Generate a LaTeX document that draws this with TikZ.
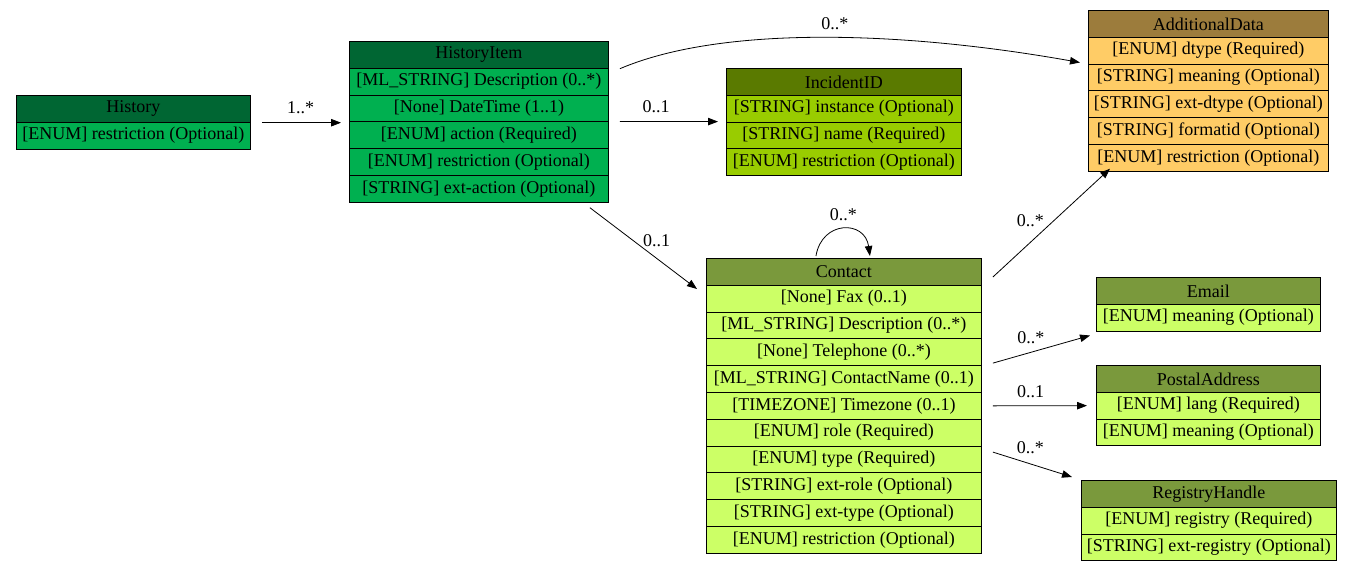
\documentclass[tikz,border=0pt]{standalone}
\usepackage{fontspec}
\setmainfont{Liberation Serif}
\usetikzlibrary{arrows.meta}
\definecolor{histhead}{RGB}{0,102,51}
\definecolor{histrow}{RGB}{0,176,80}
\definecolor{incihead}{RGB}{90,122,0}
\definecolor{incirow}{RGB}{153,204,0}
\definecolor{conthead}{RGB}{122,153,60}
\definecolor{controw}{RGB}{204,255,102}
\definecolor{datahead}{RGB}{156,124,60}
\definecolor{datarow}{RGB}{255,204,102}
\begin{document}
\begin{tikzpicture}[x=1pt, y=-1pt,
    hdr/.style={draw, line width=0.9pt, anchor=north west, inner sep=0pt,
      minimum height=26.8pt, font=\fontsize{18}{20}\selectfont},
    rowbox/.style={hdr},
    edge/.style={-{Triangle[length=10pt,width=7.5pt]}, line width=0.8pt},
    lbl/.style={font=\fontsize{18}{20}\selectfont, inner sep=0pt}]
    \useasboundingbox (0,0) rectangle (1352,571);

    % History
    \node[hdr, fill=histhead, minimum width=234pt] (history) at (16,95) {History};
    \foreach \txt [count=\i] in {{[ENUM] restriction (Optional)}}
      \node[rowbox, fill=histrow, minimum width=234pt] (history-\i) at (16,95+26.8*\i) {\txt};

    % HistoryItem
    \node[hdr, fill=histhead, minimum width=259pt] (hitem) at (349,41) {HistoryItem};
    \foreach \txt [count=\i] in {{[ML\_STRING] Description (0..*)}, {[None] DateTime (1..1)},
        {[ENUM] action (Required)}, {[ENUM] restriction (Optional)}, {[STRING] ext-action (Optional)}}
      \node[rowbox, fill=histrow, minimum width=259pt] (hitem-\i) at (349,41+26.8*\i) {\txt};

    % IncidentID
    \node[hdr, fill=incihead, minimum width=235pt] (incid) at (726,68) {IncidentID};
    \foreach \txt [count=\i] in {{[STRING] instance (Optional)}, {[STRING] name (Required)},
        {[ENUM] restriction (Optional)}}
      \node[rowbox, fill=incirow, minimum width=235pt] (incid-\i) at (726,68+26.8*\i) {\txt};

    % AdditionalData
    \node[hdr, fill=datahead, minimum width=240pt] (adata) at (1088,10) {AdditionalData};
    \foreach \txt [count=\i] in {{[ENUM] dtype (Required)}, {[STRING] meaning (Optional)},
        {[STRING] ext-dtype (Optional)}, {[STRING] formatid (Optional)}, {[ENUM] restriction (Optional)}}
      \node[rowbox, fill=datarow, minimum width=240pt] (adata-\i) at (1088,10+26.8*\i) {\txt};

    % Contact
    \node[hdr, fill=conthead, minimum width=275pt] (contact) at (706,258) {Contact};
    \foreach \txt [count=\i] in {{[None] Fax (0..1)}, {[ML\_STRING] Description (0..*)},
        {[None] Telephone (0..*)}, {[ML\_STRING] ContactName (0..1)}, {[TIMEZONE] Timezone (0..1)},
        {[ENUM] role (Required)}, {[ENUM] type (Required)}, {[STRING] ext-role (Optional)},
        {[STRING] ext-type (Optional)}, {[ENUM] restriction (Optional)}}
      \node[rowbox, fill=controw, minimum width=275pt] (contact-\i) at (706,258+26.8*\i) {\txt};

    % Email, PostalAddress, RegistryHandle
    \node[hdr, fill=conthead, minimum width=224pt] (email) at (1096,277) {Email};
    \foreach \txt [count=\i] in {{[ENUM] meaning (Optional)}}
      \node[rowbox, fill=controw, minimum width=224pt] (email-\i) at (1096,277+26.8*\i) {\txt};
    \node[hdr, fill=conthead, minimum width=224pt] (postal) at (1096,365) {PostalAddress};
    \foreach \txt [count=\i] in {{[ENUM] lang (Required)}, {[ENUM] meaning (Optional)}}
      \node[rowbox, fill=controw, minimum width=224pt] (postal-\i) at (1096,365+26.8*\i) {\txt};
    \node[hdr, fill=conthead, minimum width=255pt] (registry) at (1081,480) {RegistryHandle};
    \foreach \txt [count=\i] in {{[ENUM] registry (Required)}, {[STRING] ext-registry (Optional)}}
      \node[rowbox, fill=controw, minimum width=255pt] (registry-\i) at (1081,480+26.8*\i) {\txt};

    % Connectors
    \draw[edge] ([xshift=11pt]history.south east) -- ([xshift=-8pt]hitem.west |- history.south east)
      node[lbl, pos=0.49, yshift=15pt] {1..*};
    \draw[edge] ([xshift=11pt]hitem-3.north east) -- ([xshift=-8pt]incid-2.north west)
      node[lbl, pos=0.37, yshift=15pt] {0..1};
    \draw[edge] ([xshift=11pt]hitem.south east) .. controls +(101,-43) and +(-180,-32)
      .. ([shift={(-8pt,2pt)}]adata-1.south west) node[lbl, pos=0.53, yshift=14pt] {0..*};
    \draw[edge] ([shift={(-19pt,-5pt)}]hitem-5.south east) -- ([shift={(-9pt,-31pt)}]contact.north west)
      node[lbl, pos=0.4, xshift=24pt] {0..1};
    \draw[edge] ([shift={(-28pt,2pt)}]contact.north) .. controls +(6,-36) and +(-5,-36)
      .. ([shift={(26pt,2pt)}]contact.north) node[lbl, pos=0.5, yshift=14pt] {0..*};
    \draw[edge] ([shift={(11pt,-19pt)}]contact.north east) -- ([shift={(22pt,3pt)}]adata-5.south west)
      node[lbl, pos=0.32, yshift=22pt] {0..*};
    \draw[edge] ([shift={(11pt,3pt)}]contact-3.south east) -- ([shift={(-6pt,-4pt)}]email-1.south west)
      node[lbl, pos=0.39, yshift=15pt] {0..*};
    \draw[edge] ([xshift=11pt]contact-5.east) -- ([xshift=-9pt]postal-1.west)
      node[lbl, pos=0.4, yshift=14pt] {0..1};
    \draw[edge] ([shift={(11pt,-6.5pt)}]contact-7.north east) -- ([shift={(-9pt,3pt)}]registry.north west)
      node[lbl, pos=0.475, yshift=16pt] {0..*};
\end{tikzpicture}
\end{document}
